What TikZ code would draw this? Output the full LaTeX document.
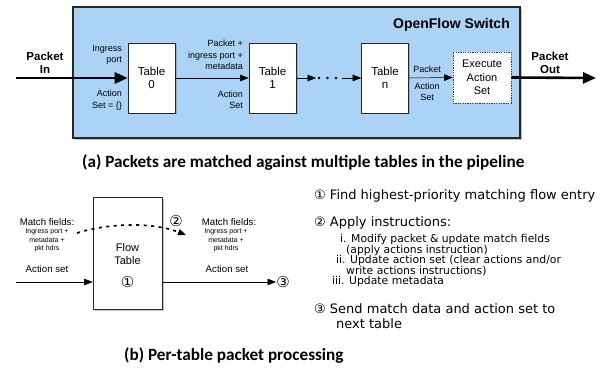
\documentclass[tikz,border=0pt]{standalone}
\usepackage{fontspec}
\setmainfont{Liberation Sans}
\newfontfamily\capfont{Carlito}
\newfontfamily\listfont{DejaVu Sans}
\usetikzlibrary{arrows.meta,shadows}
\definecolor{swblue}{RGB}{170,211,246}
\begin{document}
\begin{tikzpicture}[x=1pt,y=-1pt,
  tbl/.style={draw=black!85, fill=white, line width=0.6pt, minimum width=47pt, minimum height=70pt, inner sep=0pt, align=center, font=\fontsize{11.5}{13.5}\selectfont, drop shadow={shadow xshift=1.5pt, shadow yshift=-1.5pt, opacity=0.45}},
  lblr/.style={font=\fontsize{9}{11.5}\selectfont, inner sep=0pt, align=right},
  lblc/.style={font=\fontsize{9}{10.5}\selectfont, inner sep=0pt, align=center},
  bold/.style={font=\bfseries\fontsize{11.5}{13}\selectfont, inner sep=0pt, align=center},
  thinarr/.style={-{Triangle[length=8.5pt,width=6.5pt]}, line width=0.5pt},
  thickarr/.style={-{Triangle[length=13pt,width=11pt]}, line width=2.6pt},
  capt/.style={font=\capfont\bfseries\fontsize{17.2}{19}\selectfont, inner sep=0pt, anchor=west},
  mf/.style={font=\fontsize{9.7}{11}\selectfont, inner sep=0pt},
  mfs/.style={font=\fontsize{7}{8.5}\selectfont, inner sep=0pt, align=center},
  circ/.style={font=\listfont\fontsize{15}{17}\selectfont, inner sep=0pt},
  li/.style={font=\listfont\fontsize{13}{15}\selectfont, inner sep=0pt, anchor=west},
  lis/.style={font=\listfont\fontsize{10.8}{12}\selectfont, inner sep=0pt, anchor=west},
]
\useasboundingbox (0,0) rectangle (601,371);
% ---------- (a) ----------
\node[draw=black!85, fill=swblue, line width=1.3pt, minimum width=447pt, minimum height=131pt, inner sep=0pt,
  drop shadow={shadow xshift=1.5pt, shadow yshift=-2pt, opacity=0.5}] (sw) at (296.5,72.5) {};
\node[font=\bfseries\fontsize{14}{16}\selectfont, inner sep=0pt, anchor=east] (swt) at (510,25) {OpenFlow Switch};

\node[tbl] (t0) at (151.5,78) {Table\\0};
\node[tbl] (t1) at (272.5,78) {Table\\1};
\node[tbl] (tn) at (385,78) {Table\\n};
\node[draw=black!80, fill=white, dash pattern=on 1.2pt off 1.2pt, line width=0.6pt, minimum width=58pt, minimum height=51pt, inner sep=0pt, align=center, font=\fontsize{11}{13.5}\selectfont] (ex) at (482,77.5) {Execute\\Action\\Set};

\node[bold] (pin) at (45,63) {Packet\\In};
\node[bold] (pout) at (550,63) {Packet\\Out};
\coordinate (inS) at (16,78);
\coordinate (outE) at (596,78);
\draw[thickarr] (inS) -- (t0.west);
\draw[thickarr] (ex.east) -- (outE);

\node[lblr, anchor=east] (l0a) at (122,55) {Ingress\\port};
\node[lblr, anchor=east] (l0b) at (122,100) {Action\\Set = \{\}};
\node[lblr, anchor=east] (l1a) at (243,55) {Packet +\\ingress port +\\metadata};
\node[lblr, anchor=east] (l1b) at (243,100) {Action\\Set};
\node[lblc] (lna) at (427,69) {Packet};
\node[lblc] (lnb) at (427,92) {Action\\Set};

\draw[thinarr] (t0.east) -- (t1.west);
\node[inner sep=0pt] (dots) at (327.5,78) {};
\coordinate (d1) at (316,78);
\coordinate (d2) at (342,78);
\fill (dots.center) ++(-8.5,0) circle (1.4pt) (dots.center) circle (1.4pt) (dots.center) ++(8.5,0) circle (1.4pt);
\draw[thinarr] (t1.east) -- (d1);
\draw[thinarr] (d2) -- (tn.west);
\draw[thinarr] (tn.east) -- (ex.west);

\node[capt] (capa) at (82,163) {(a) Packets are matched against multiple tables in the pipeline};

% ---------- (b) ----------
\node[draw=black!85, fill=white, line width=0.6pt, minimum width=69pt, minimum height=112pt, inner sep=0pt,
  drop shadow={shadow xshift=1.5pt, shadow yshift=-1.5pt, opacity=0.45}] (ft) at (127.5,253) {};
\node[font=\fontsize{11}{13}\selectfont, inner sep=0pt, align=center] (ftt) at (127.5,254.5) {Flow\\Table};
\node[circ] (c1) at (127.5,282) {①};

\coordinate (bin) at (16,282);
\node[circ] (c3) at (283,282) {③};
\draw[thinarr] (bin) -- (ft.west |- bin);
\draw[thinarr] (ft.east |- bin) -- (c3.west);

\coordinate (ds) at (77,233);
\coordinate (de) at (186,235);
\draw[line width=1.7pt, dash pattern=on 3pt off 4.5pt, -{Triangle[length=8pt,width=6pt]}] (ds) .. controls (105,224) and (150,221) .. (de);
\node[circ] (c2) at (176,221) {②};

\node[mf] (mfl) at (47,222) {Match fields:};
\node[mfs] (mfls) at (47,240.5) {Ingress port +\\metadata +\\pkt hdrs};
\node[mf] (asl) at (47,269) {Action set};
\node[mf] (mfr) at (229,222) {Match fields:};
\node[mfs] (mfrs) at (226,240.5) {Ingress port +\\metadata +\\pkt hdrs};
\node[mf] (asr) at (227,269) {Action set};

\node[li] (i1) at (314,196) {① Find highest-priority matching flow entry};
\node[li] (i2) at (314,223) {② Apply instructions:};
\node[lis] (i2a) at (340,240) {i. Modify packet \& update match fields};
\node[lis] (i2a2) at (346,250.5) {(apply actions instruction)};
\node[lis] (i2b) at (336,261) {ii. Update action set (clear actions and/or};
\node[lis] (i2b2) at (346,271.5) {write actions instructions)};
\node[lis] (i2c) at (332,282) {iii. Update metadata};
\node[li] (i3) at (314,309) {③ Send match data and action set to};
\node[li] (i3b) at (336,324) {next table};

\node[capt] (capb) at (124,356) {(b) Per-table packet processing};
\end{tikzpicture}
\end{document}
